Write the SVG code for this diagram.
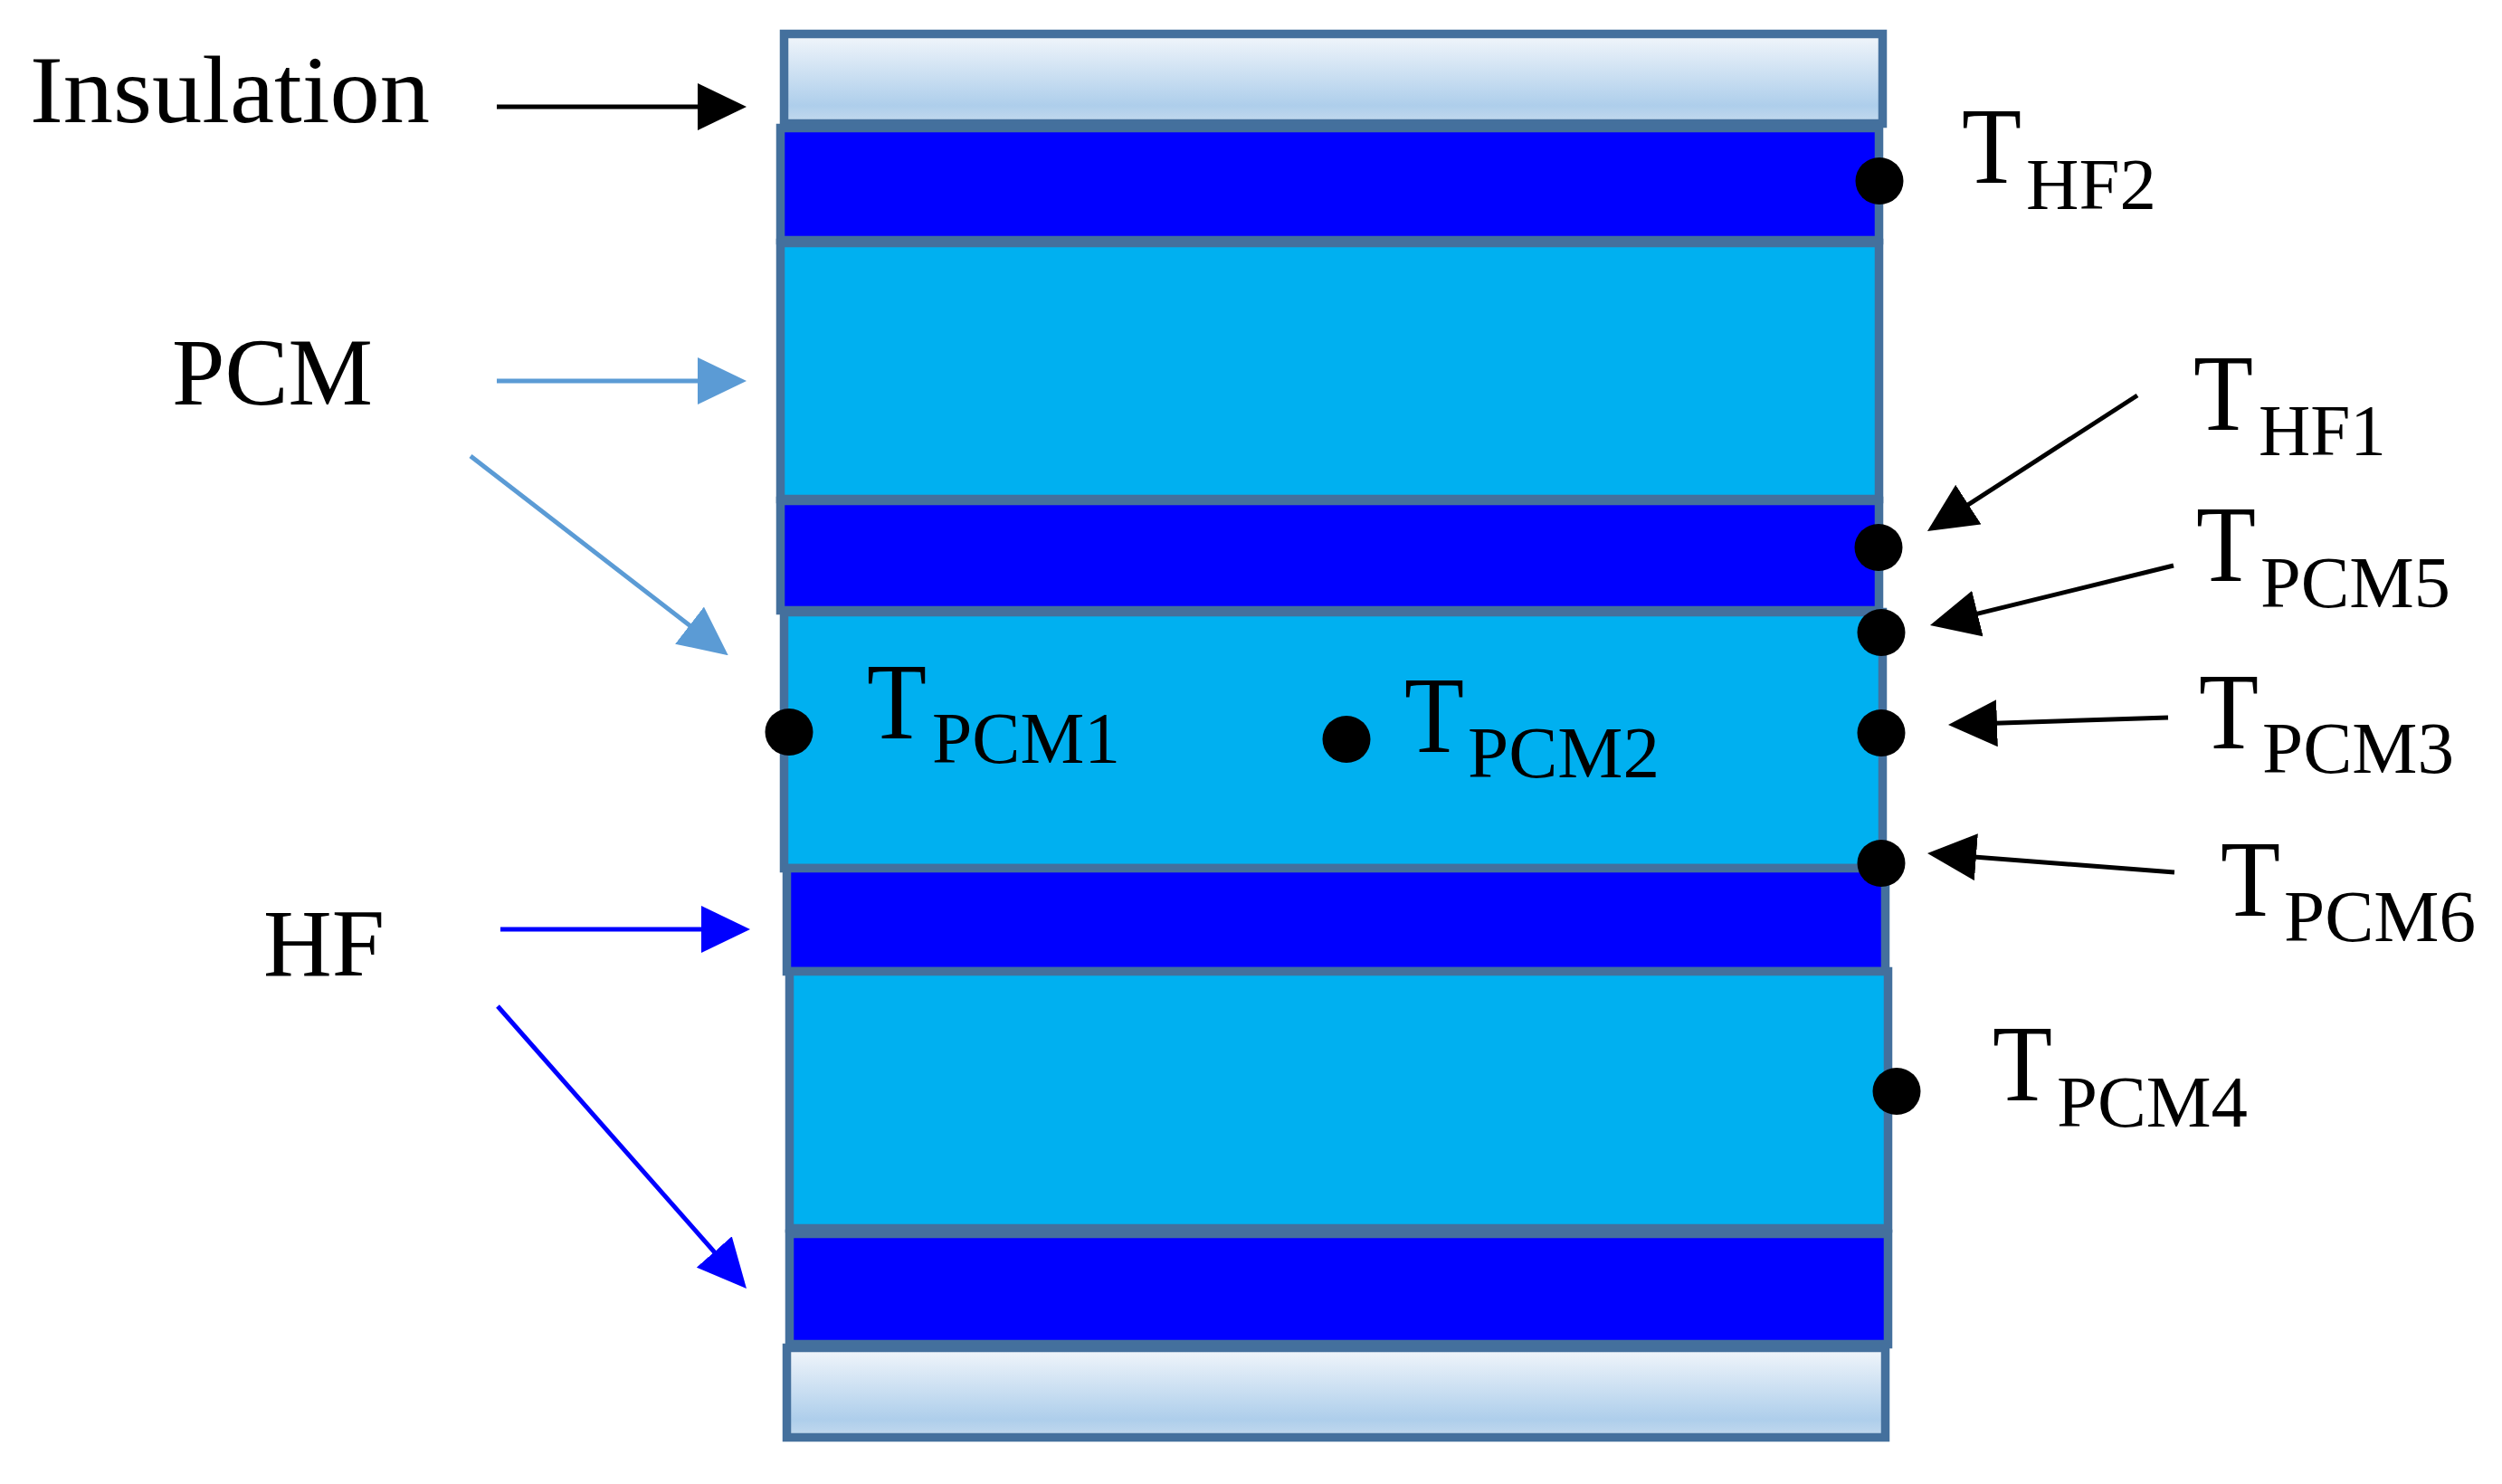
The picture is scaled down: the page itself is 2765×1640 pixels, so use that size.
<svg xmlns="http://www.w3.org/2000/svg" width="2765" height="1640" viewBox="0 0 2765 1640">
<defs>
<style>
.l{stroke:#44709D;stroke-width:9.5}
.ins{fill:url(#insGrad)}
.hf{fill:#0000FF}
.pcm{fill:#00B0F0}
.c{fill:none;stroke-width:5}
.dot{fill:#000}
text{font-family:"Liberation Serif","Times New Roman",serif;fill:#000}
.lab{font-size:106px}
.t{font-size:120px}
.s{font-size:80px}
</style>
<linearGradient id="insGrad" x1="0" y1="0" x2="0" y2="1">
<stop offset="0" stop-color="#F2F6FB"/><stop offset="0.8" stop-color="#AECEEB"/><stop offset="1" stop-color="#C4DAEE"/>
</linearGradient>
<marker id="aK" markerUnits="userSpaceOnUse" markerWidth="54" markerHeight="52" viewBox="0 0 54 52" refX="48" refY="26" orient="auto"><path d="M0 0L54 26L0 52Z" fill="#000"/></marker>
<marker id="aP" markerUnits="userSpaceOnUse" markerWidth="54" markerHeight="52" viewBox="0 0 54 52" refX="48" refY="26" orient="auto"><path d="M0 0L54 26L0 52Z" fill="#5B9BD5"/></marker>
<marker id="aB" markerUnits="userSpaceOnUse" markerWidth="54" markerHeight="52" viewBox="0 0 54 52" refX="48" refY="26" orient="auto"><path d="M0 0L54 26L0 52Z" fill="#0000FF"/></marker>
</defs>
<rect width="2765" height="1640" fill="#fff"/>
<g id="insulation-top"><rect class="l ins" x="866.5" y="37.5" width="1214" height="99"/></g>
<g id="hf-1"><rect class="l hf" x="862.5" y="141.5" width="1214" height="124"/></g>
<g id="pcm-1"><rect class="l pcm" x="862.5" y="268.5" width="1214" height="283"/></g>
<g id="hf-2"><rect class="l hf" x="862.5" y="553.5" width="1214" height="121"/></g>
<g id="pcm-2"><rect class="l pcm" x="866.5" y="676.5" width="1214" height="283"/></g>
<g id="hf-3"><rect class="l hf" x="869.5" y="959.5" width="1214" height="114"/></g>
<g id="pcm-3"><rect class="l pcm" x="872.5" y="1073.5" width="1214" height="284"/></g>
<g id="hf-4"><rect class="l hf" x="872.5" y="1363.5" width="1214" height="122"/></g>
<g id="insulation-bottom"><rect class="l ins" x="869.5" y="1489.5" width="1214" height="99"/></g>
<g id="connectors">
<path class="c" stroke="#000" marker-end="url(#aK)" d="M549 118H819"/>
<path class="c" stroke="#5B9BD5" marker-end="url(#aP)" d="M549 421H819"/>
<path class="c" stroke="#5B9BD5" marker-end="url(#aP)" d="M520 504L800 720.5"/>
<path class="c" stroke="#0000FF" marker-end="url(#aB)" d="M553 1027H823"/>
<path class="c" stroke="#0000FF" marker-end="url(#aB)" d="M550 1112L821 1419.5"/>
<path class="c" stroke="#000" marker-end="url(#aK)" d="M2362 437L2135 583.7"/>
<path class="c" stroke="#000" marker-end="url(#aK)" d="M2402 625L2138.8 689.6"/>
<path class="c" stroke="#000" marker-end="url(#aK)" d="M2396 793L2159 800.8"/>
<path class="c" stroke="#000" marker-end="url(#aK)" d="M2403 964L2136 943.5"/>
</g>
<g id="label-insulation"><text class="lab" x="33" y="135" textLength="442" lengthAdjust="spacingAndGlyphs">Insulation</text></g>
<g id="label-pcm"><text class="lab" x="190" y="447" textLength="222" lengthAdjust="spacingAndGlyphs">PCM</text></g>
<g id="label-hf"><text class="lab" x="291" y="1078" textLength="134" lengthAdjust="spacingAndGlyphs">HF</text></g>
<g id="sensor-hf2"><ellipse class="dot" cx="2077" cy="200" rx="26.5" ry="26"/><text class="t" x="2168" y="201.5"><tspan textLength="66" lengthAdjust="spacingAndGlyphs">T</tspan><tspan class="s" x="2239" y="231" textLength="144" lengthAdjust="spacingAndGlyphs">HF2</tspan></text></g>
<g id="sensor-hf1"><ellipse class="dot" cx="2076" cy="605" rx="26.5" ry="26"/><text class="t" x="2424" y="474.5"><tspan textLength="66" lengthAdjust="spacingAndGlyphs">T</tspan><tspan class="s" x="2496" y="502.5" textLength="141" lengthAdjust="spacingAndGlyphs">HF1</tspan></text></g>
<g id="sensor-pcm5"><ellipse class="dot" cx="2079" cy="699" rx="26.5" ry="26"/><text class="t" x="2427" y="642"><tspan textLength="66" lengthAdjust="spacingAndGlyphs">T</tspan><tspan class="s" x="2498" y="671" textLength="210" lengthAdjust="spacingAndGlyphs">PCM5</tspan></text></g>
<g id="sensor-pcm3"><ellipse class="dot" cx="2079" cy="810" rx="26.5" ry="26"/><text class="t" x="2430" y="827"><tspan textLength="66" lengthAdjust="spacingAndGlyphs">T</tspan><tspan class="s" x="2500" y="853.5" textLength="212" lengthAdjust="spacingAndGlyphs">PCM3</tspan></text></g>
<g id="sensor-pcm6"><ellipse class="dot" cx="2079" cy="954" rx="26.5" ry="26"/><text class="t" x="2454" y="1011.5"><tspan textLength="66" lengthAdjust="spacingAndGlyphs">T</tspan><tspan class="s" x="2524" y="1040" textLength="212" lengthAdjust="spacingAndGlyphs">PCM6</tspan></text></g>
<g id="sensor-pcm4"><ellipse class="dot" cx="2096" cy="1206" rx="26.5" ry="26"/><text class="t" x="2202" y="1216"><tspan textLength="66" lengthAdjust="spacingAndGlyphs">T</tspan><tspan class="s" x="2273" y="1244.5" textLength="211" lengthAdjust="spacingAndGlyphs">PCM4</tspan></text></g>
<g id="sensor-pcm1"><ellipse class="dot" cx="872" cy="809" rx="26.5" ry="26"/><text class="t" x="958" y="816"><tspan textLength="66" lengthAdjust="spacingAndGlyphs">T</tspan><tspan class="s" x="1030" y="843" textLength="208" lengthAdjust="spacingAndGlyphs">PCM1</tspan></text></g>
<g id="sensor-pcm2"><ellipse class="dot" cx="1488" cy="817" rx="26.5" ry="26"/><text class="t" x="1552" y="831"><tspan textLength="66" lengthAdjust="spacingAndGlyphs">T</tspan><tspan class="s" x="1622" y="859" textLength="212" lengthAdjust="spacingAndGlyphs">PCM2</tspan></text></g>
</svg>
